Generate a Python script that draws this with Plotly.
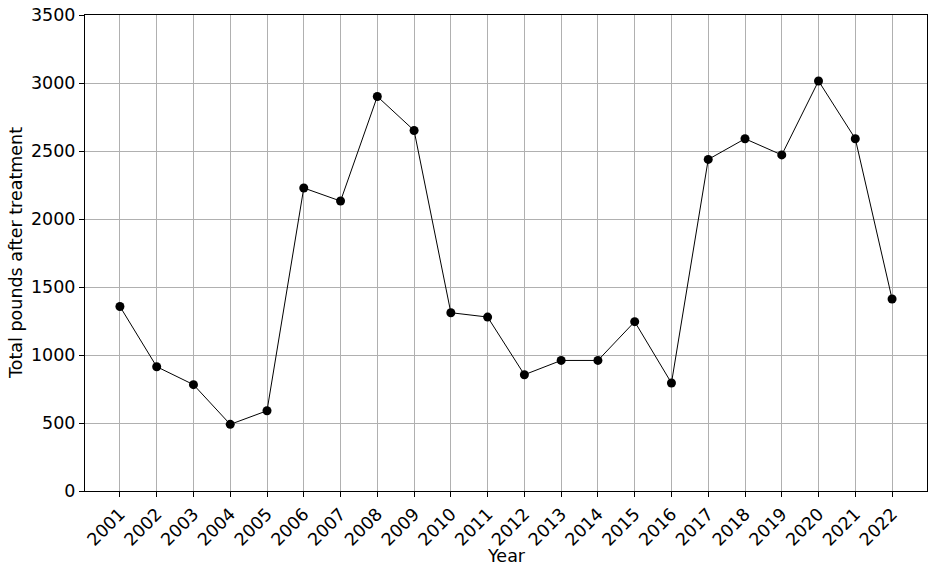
import plotly.graph_objects as go

years = list(range(2001, 2023))
pounds = [1357, 914, 782, 490, 590, 2228, 2132, 2901, 2651, 1311, 1279,
          855, 960, 960, 1245, 794, 2438, 2590, 2471, 3015, 2590, 1412]

fig = go.Figure()
fig.add_trace(
    go.Scatter(
        x=years,
        y=pounds,
        mode="lines+markers",
        line=dict(color="black", width=1),
        marker=dict(color="black", size=9),
        showlegend=False,
        cliponaxis=False,
    )
)

axis_style = dict(
    showline=True,
    linecolor="black",
    linewidth=1,
    mirror=True,
    showgrid=True,
    gridcolor="#b0b0b0",
    gridwidth=0.8,
    ticks="outside",
    ticklen=5,
    tickcolor="black",
    zeroline=False,
    automargin=False,
    ticklabeloverflow="allow",
    tickfont=dict(size=17.5, color="black"),
)

fig.update_xaxes(
    **axis_style,
    range=[2000.05, 2022.95],
    tickmode="array",
    tickvals=years,
    ticktext=[str(y) for y in years],
    tickangle=-45,
)
fig.update_yaxes(**axis_style, range=[0, 3500], dtick=500)

# axis titles as annotations so their distance from the ticks can be set exactly
fig.add_annotation(
    text="Year",
    xref="paper",
    yref="paper",
    x=0.5,
    y=-0.137,
    yanchor="middle",
    showarrow=False,
    font=dict(size=17.5, color="black"),
)
fig.add_annotation(
    text="Total pounds after treatment",
    xref="paper",
    yref="paper",
    x=-0.082,
    y=0.5,
    xanchor="center",
    textangle=-90,
    showarrow=False,
    font=dict(size=17.5, color="black"),
)

fig.update_layout(
    width=936,
    height=576,
    plot_bgcolor="white",
    paper_bgcolor="white",
    font=dict(family="DejaVu Sans", size=17.5, color="black"),
    margin=dict(l=85, r=9, t=15, b=85),
)

# drop the browser's default body margin so the figure sits at the page corner
fig.write_html(
    "out.html",
    config={"displayModeBar": False},
    post_script="document.body.style.margin = '0';",
)
